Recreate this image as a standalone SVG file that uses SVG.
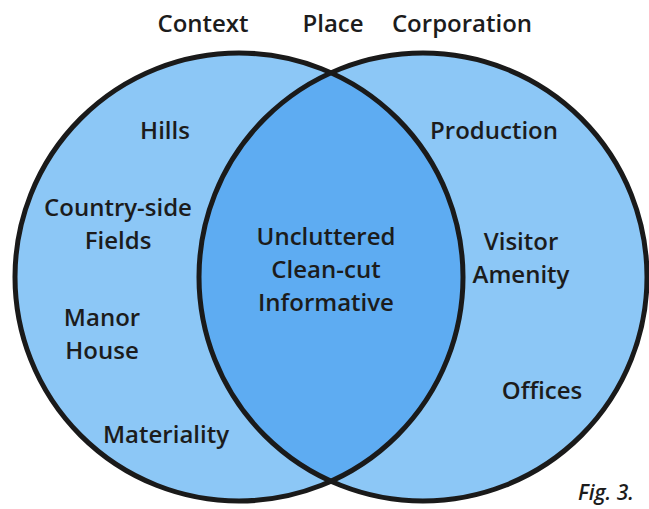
<svg xmlns="http://www.w3.org/2000/svg" width="649" height="509" viewBox="0 0 649 509">
<style>
.t{font-family:"Open Sans","Noto Sans","DejaVu Sans",sans-serif;font-weight:600;font-size:24px;fill:#1c1c1c;text-anchor:middle}
.c{fill:#8cc7f6;stroke:none}
.o{fill:none;stroke:#1a1a1a;stroke-width:5}
.fig{font-family:"Open Sans","Noto Sans",sans-serif;font-style:italic;font-weight:600;font-size:21px;fill:#1c1c1c;text-anchor:middle}
</style>
<defs>
<clipPath id="clipL"><circle cx="239" cy="277" r="224"/></clipPath>
</defs>
<rect width="649" height="509" fill="#ffffff"/>
<g id="circle-context">
<circle class="c" cx="239" cy="277" r="224"/>
</g>
<g id="circle-corporation">
<circle class="c" cx="423" cy="277" r="224"/>
</g>
<g id="place-overlap">
<circle cx="423" cy="277" r="224" fill="#5eacf2" clip-path="url(#clipL)"/>
</g>
<g id="outlines">
<circle class="o" cx="239" cy="277" r="224"/>
<circle class="o" cx="423" cy="277" r="224"/>
</g>
<g id="headings">
<text class="t" x="203" y="32">Context</text>
<text class="t" x="333" y="32">Place</text>
<text class="t" x="462" y="32">Corporation</text>
</g>
<g id="context-items">
<text class="t" x="165" y="139">Hills</text>
<text class="t" x="118" y="216">Country-side</text>
<text class="t" x="118" y="249">Fields</text>
<text class="t" x="102" y="326">Manor</text>
<text class="t" x="102" y="359">House</text>
<text class="t" x="166" y="443">Materiality</text>
</g>
<g id="place-items">
<text class="t" x="326" y="245">Uncluttered</text>
<text class="t" x="326" y="278">Clean-cut</text>
<text class="t" x="326" y="311">Informative</text>
</g>
<g id="corporation-items">
<text class="t" x="494" y="139">Production</text>
<text class="t" x="521" y="250">Visitor</text>
<text class="t" x="521" y="283">Amenity</text>
<text class="t" x="542" y="399">Offices</text>
</g>
<text class="fig" x="606" y="500">Fig. 3.</text>
</svg>
